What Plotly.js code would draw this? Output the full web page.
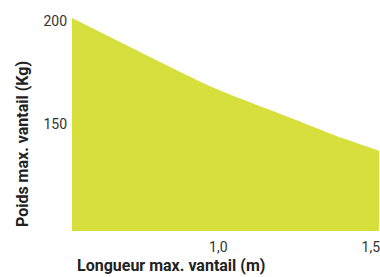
<!DOCTYPE html>
<html>
<head>
<meta charset="utf-8">
<script src="https://cdn.plot.ly/plotly-3.0.1.min.js"></script>
<style>html,body{margin:0;padding:0;background:#fff;}#chart{width:380px;height:277px;}</style>
</head>
<body>
<div id="chart"></div>
<script>
const longueur = [0.52, 0.71, 0.983, 1.257, 1.409, 1.527];
const poids = [201.5, 187.5, 167.9, 152.1, 143.3, 137.3];
const xTickVals = [1.0, 1.5];
const xTickText = ['1,0', '1,5'];
const yTickVals = [150, 200];
const yTickText = ['150', '200'];
const xTitle = 'Longueur max. vantail (m)';
const yTitle = 'Poids max. vantail (Kg)';

const font = '"Liberation Sans Narrow", "Arial Narrow", Roboto, sans-serif';

const trace = {
  x: longueur, y: poids, type: 'scatter', mode: 'lines',
  line: {width: 0, shape: 'spline', smoothing: 0.6, color: '#d7df3c'},
  fill: 'tozeroy', fillcolor: '#d7df3c', hoverinfo: 'skip'
};

const layout = {
  width: 380, height: 277,
  margin: {l: 72, r: 1, t: 18, b: 46},
  paper_bgcolor: '#fff', plot_bgcolor: '#fff',
  showlegend: false,
  xaxis: {range: [0.52, 1.527], showgrid: false, zeroline: false, showline: false,
    tickvals: xTickVals, ticktext: xTickText, ticks: '', ticklabeloverflow: 'allow',
    ticklabelstandoff: 6,
    tickfont: {family: font, size: 14, color: '#333'}},
  yaxis: {range: [98.5, 201.5], showgrid: false, zeroline: false, showline: false,
    tickvals: yTickVals, ticktext: yTickText, ticks: '', ticklabelstandoff: 4,
    tickfont: {family: font, size: 14, color: '#333'}},
  annotations: [
    {text: '<b>' + xTitle + '</b>', xref: 'paper', yref: 'paper', x: 0.3225, y: -0.164,
      xanchor: 'center', yanchor: 'middle', showarrow: false,
      font: {family: font, size: 16, color: '#222'}},
    {text: '<b>' + yTitle + '</b>', xref: 'paper', yref: 'paper', x: -0.163, y: 0.408,
      xanchor: 'center', yanchor: 'middle', showarrow: false, textangle: -90,
      font: {family: font, size: 16, color: '#222'}}
  ]
};

Plotly.newPlot('chart', [trace], layout, {displayModeBar: false, staticPlot: true});
</script>
</body>
</html>
